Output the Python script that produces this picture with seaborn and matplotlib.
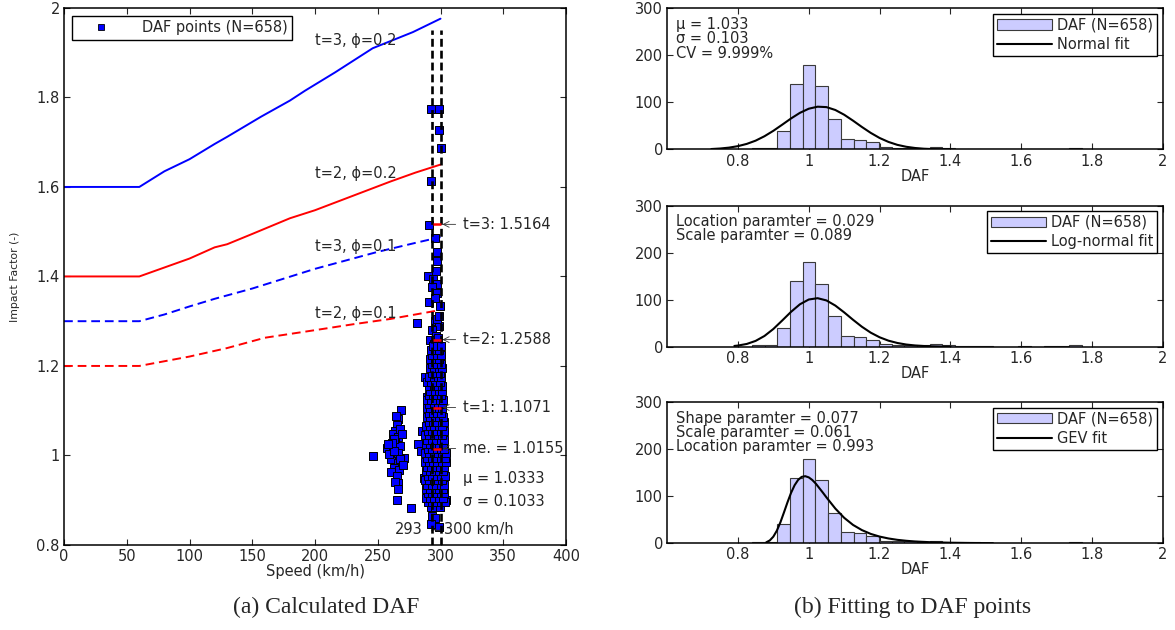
import matplotlib
matplotlib.use("Agg")
import matplotlib.pyplot as plt
from matplotlib.lines import Line2D
from matplotlib.patches import Patch
from matplotlib.ticker import FuncFormatter
import numpy as np
import pandas as pd
import seaborn as sns


# ---- (a) DAF points ----
# sparse points above the dense column
upper_speed = [292.5, 298.5, 299, 300, 292.5, 290.5, 296, 297, 297.5, 296.5,
               290, 294, 297, 293.5, 297.5, 291, 296, 299.5, 281.5, 296,
               299, 293.5, 297.5, 296.5, 299, 292, 298, 295]
upper_daf = [1.775, 1.775, 1.728, 1.687, 1.614, 1.515, 1.487, 1.455, 1.435, 1.413,
             1.402, 1.395, 1.382, 1.376, 1.363, 1.342, 1.352, 1.333, 1.296, 1.300,
             1.290, 1.280, 1.305, 1.268, 1.312, 1.258, 1.262, 1.250]

# cluster around 260-270 km/h and loose points
side_speed = [246.5, 268.9, 265.9, 265, 263.6, 262, 266.5, 264, 260, 257.6,
              262, 264, 268, 271, 260.6, 265.9, 263, 267.2, 260.6, 265,
              266.5, 263.6, 259, 262.6, 266.5, 268, 265, 276.3, 282, 284.3,
              285, 287, 288, 289.6, 289.6, 303, 304.5, 293, 295.5, 292.6, 298.5,
              267.5, 264.5, 261, 269, 266, 263, 258.5, 270]
side_daf = [0.999, 1.102, 1.081, 1.067, 1.054, 1.049, 1.041, 1.032, 1.020, 1.017,
            1.017, 1.005, 1.020, 0.995, 0.991, 0.984, 0.973, 0.968, 0.964, 0.955,
            0.939, 0.941, 1.004, 1.036, 1.005, 0.991, 0.900, 0.883, 1.025, 1.011,
            1.054, 0.950, 1.176, 1.131, 0.905, 0.903, 0.900, 0.865, 0.860, 0.847, 0.840,
            1.060, 1.088, 1.028, 1.048, 0.925, 1.011, 1.025, 0.978]

# dense column between 293 and 300 km/h: (DAF, speeds)
main_rows = [
    (0.885, [292.5, 296, 299.5]),
    (0.895, [290, 293.5, 297, 300.5, 303.5]),
    (0.905, [288.5, 291.5, 295, 298.5, 302]),
    (0.915, [290, 293.5, 297, 300.5, 303]),
    (0.925, [288.5, 292, 295.5, 299, 302]),
    (0.935, [289.5, 293, 296.5, 300, 303]),
    (0.945, [288, 291, 294.5, 298, 301.5]),
    (0.955, [290, 293.5, 297, 300.5, 303.5]),
    (0.965, [288.5, 291.5, 295, 298.5, 302]),
    (0.975, [289, 292.5, 296, 299.5, 303]),
    (0.985, [287.5, 290.5, 294, 297.5, 301, 304]),
    (0.995, [289.5, 293, 296.5, 300, 303.5]),
    (1.005, [288, 291, 294.5, 298, 301.5, 304.5]),
    (1.015, [290, 293.5, 297, 300.5, 303]),
    (1.025, [288.5, 291.5, 295, 298.5, 302]),
    (1.035, [289.5, 293, 296.5, 300, 303]),
    (1.045, [288, 291, 294.5, 298, 301.5]),
    (1.055, [290, 293.5, 297, 300.5, 302.5]),
    (1.065, [288.5, 291.5, 295, 298.5, 301.5]),
    (1.075, [290.5, 294, 297.5, 301, 303]),
    (1.085, [289, 292, 295.5, 299, 302]),
    (1.095, [290.5, 294, 297.5, 300.5]),
    (1.105, [289, 292, 295.5, 299, 301.5]),
    (1.115, [291, 294.5, 298, 301]),
    (1.125, [289.5, 292.5, 296, 299.5, 302]),
    (1.135, [290.5, 294, 297.5, 300.5]),
    (1.145, [292, 295.5, 299, 301.5]),
    (1.155, [291, 294.5, 298, 301]),
    (1.165, [289.5, 292.5, 296, 299.5]),
    (1.175, [291, 294.5, 298, 300.5]),
    (1.185, [293, 296.5, 299.5]),
    (1.195, [291.5, 295, 298.5, 301]),
    (1.205, [293.5, 297, 300]),
    (1.215, [292, 295.5, 299]),
    (1.225, [293.5, 297, 300]),
    (1.235, [292.5, 296, 299]),
    (1.245, [294, 297.5, 300.5]),
]

# impact factor curves
curve_speed = {
    "t3_02": [0, 60, 80, 100, 120, 130, 157, 180, 192, 216, 246, 278, 300],
    "t2_02": [0, 60, 80, 100, 120, 130, 150, 180, 200, 230, 260, 280, 300],
    "t3_01": [0, 60, 80, 100, 120, 150, 200, 250, 280, 300],
    "t2_01": [0, 60, 100, 130, 160, 200, 230, 260, 300],
}
curve_factor = {
    "t3_02": [1.6, 1.6, 1.635, 1.662, 1.696, 1.712, 1.757, 1.793, 1.815, 1.856, 1.91, 1.946, 1.976],
    "t2_02": [1.4, 1.4, 1.42, 1.44, 1.465, 1.472, 1.495, 1.53, 1.548, 1.58, 1.612, 1.632, 1.65],
    "t3_01": [1.3, 1.3, 1.315, 1.333, 1.35, 1.373, 1.417, 1.455, 1.475, 1.488],
    "t2_01": [1.2, 1.2, 1.221, 1.24, 1.263, 1.28, 1.293, 1.305, 1.325],
}
curve_label = {"t3_02": "t=3, ϕ=0.2", "t2_02": "t=2, ϕ=0.2",
               "t3_01": "t=3, ϕ=0.1", "t2_01": "t=2, ϕ=0.1"}
curve_label_y = {"t3_02": 1.928, "t2_02": 1.629, "t3_01": 1.468, "t2_01": 1.317}

speed_band = [293, 300]
stat_values = [1.5164, 1.2588, 1.1071, 1.0155]
stat_labels = ["t=3: 1.5164", "t=2: 1.2588", "t=1: 1.1071", "me. = 1.0155"]

# ---- (b) histogram of DAF and fitted curves ----
hist_counts = [3, 3, 40, 139, 180, 134, 65, 23, 21, 15, 5, 4, 4,
               3, 5, 3, 2, 2, 1, 0, 0, 1, 0, 1, 1, 3]
hist_lo, hist_hi = 0.84, 1.771

normal_x = [0.725, 0.75, 0.775, 0.8, 0.825, 0.85, 0.875, 0.9, 0.925, 0.95, 0.975, 1.0, 1.025, 1.05,
            1.075, 1.1, 1.125, 1.15, 1.175, 1.2, 1.225, 1.25, 1.275, 1.3, 1.325, 1.35, 1.375, 1.4]
normal_y = [1.0, 2.1, 4.0, 7.1, 11.9, 18.8, 28.2, 39.7, 52.7, 66.0, 77.9, 86.7, 91.0, 90.1,
            84.0, 73.9, 61.3, 47.9, 35.3, 24.5, 16.1, 9.9, 5.8, 3.2, 1.6, 0.8, 0.4, 0.15]

lognorm_x = [0.79, 0.8, 0.825, 0.85, 0.875, 0.9, 0.925, 0.95, 0.975, 1.0, 1.025, 1.05, 1.075,
             1.1, 1.125, 1.15, 1.175, 1.2, 1.225, 1.25, 1.275, 1.3, 1.325, 1.35, 1.375, 1.4]
lognorm_y = [1.6, 2.4, 5.8, 12.3, 22.8, 37.6, 55.6, 74.1, 90.1, 100.3, 103.1, 98.3, 87.4,
             72.9, 57.2, 42.4, 29.8, 20.0, 12.8, 7.9, 4.6, 2.6, 1.4, 0.8, 0.4, 0.2]

gev_x = [0.88, 0.89, 0.9, 0.91, 0.92, 0.93, 0.94, 0.95, 0.96, 0.97, 0.98, 0.99, 1.0, 1.01, 1.02,
         1.04, 1.05, 1.075, 1.1, 1.125, 1.15, 1.175, 1.2, 1.225, 1.25, 1.275, 1.3, 1.35, 1.4,
         1.45, 1.5, 1.52]
gev_y = [2.1, 6.1, 14.1, 27.0, 44.7, 65.6, 87.2, 107.2, 123.4, 134.8, 141.2, 142.7, 140.2, 134.6,
         126.8, 107.6, 97.6, 73.9, 54.2, 39.1, 28.1, 20.0, 14.3, 10.3, 7.4, 5.4, 3.9, 2.1, 1.2,
         0.7, 0.4, 0.3]

fit_names = ["Normal fit", "Log-normal fit", "GEV fit"]
fit_texts = ["μ = 1.033\nσ = 0.103\nCV = 9.999%",
             "Location paramter = 0.029\nScale paramter = 0.089",
             "Shape paramter = 0.077\nScale paramter = 0.061\nLocation paramter = 0.993"]


sns.set_style("ticks")
fs = 10.5
plt.rcParams['font.family'] = ['DejaVu Sans']
plt.rcParams['font.size'] = fs
plt.rcParams['xtick.direction'] = 'in'
plt.rcParams['ytick.direction'] = 'in'
plt.rcParams['xtick.top'] = True
plt.rcParams['ytick.right'] = True
plt.rcParams['xtick.major.size'] = 4.5
plt.rcParams['ytick.major.size'] = 4.5
plt.rcParams['xtick.major.pad'] = 3
plt.rcParams['ytick.major.pad'] = 3
plt.rcParams['axes.edgecolor'] = 'black'
plt.rcParams['axes.linewidth'] = 1.1
plt.rcParams['xtick.labelsize'] = fs
plt.rcParams['ytick.labelsize'] = fs

fmt = FuncFormatter(lambda v, p: f"{v:g}")

fig = plt.figure(figsize=(11.75, 6.3), dpi=100)

# ---------------- (a) Calculated DAF ----------------
ax = fig.add_axes([0.0545, 0.135, 0.4272, 0.8524])

main_speed = [s for daf, speeds in main_rows for s in speeds]
main_daf = [daf for daf, speeds in main_rows for s in speeds]
pts = pd.DataFrame({
    "speed": upper_speed + side_speed + main_speed,
    "daf": upper_daf + side_daf + main_daf,
})
sns.scatterplot(data=pts, x="speed", y="daf", marker="s", s=30, color="#0000ff",
                edgecolor="black", linewidth=0.7, ax=ax, zorder=3, legend=False)

for key in curve_speed:
    color = "#0000ff" if key.startswith("t3") else "#ff0000"
    ls = "-" if key.endswith("02") else (0, (4.5, 2.5))
    sns.lineplot(x=curve_speed[key], y=curve_factor[key], color=color, linestyle=ls,
                 lw=1.4, ax=ax, estimator=None, sort=False, zorder=2)
    ax.text(200, curve_label_y[key], curve_label[key], fontsize=fs, va="center", ha="left")

ax.vlines(speed_band, 0.8, 1.95, colors="black", linestyles=(0, (3, 1.5)), lw=1.9, zorder=4)
ax.hlines(stat_values, 294, 300, colors="red", lw=1.8, zorder=5)
for v, lab in zip(stat_values, stat_labels):
    ax.annotate(lab, xy=(301.5, v), xytext=(318, v), va="center", ha="left", fontsize=fs,
                arrowprops=dict(arrowstyle="->", lw=0.6, color="#333333", shrinkA=3, shrinkB=0))
ax.text(318, 0.948, "μ = 1.0333", va="center", ha="left", fontsize=fs)
ax.text(318, 0.896, "σ = 0.1033", va="center", ha="left", fontsize=fs)
ax.text(286, 0.834, "293", va="center", ha="right", fontsize=fs)
ax.text(296.5, 0.834, "~", va="center", ha="center", fontsize=fs)
ax.text(302.5, 0.834, "300 km/h", va="center", ha="left", fontsize=fs)

ax.set_xlim(0, 400)
ax.set_ylim(0.8, 2.0)
ax.set_xticks(np.arange(0, 401, 50))
ax.set_yticks([0.8, 1.0, 1.2, 1.4, 1.6, 1.8, 2.0])
ax.yaxis.set_major_formatter(fmt)
ax.set_xlabel("Speed (km/h)", fontsize=fs, labelpad=0)
ax.set_ylabel("Impact Factor (-)", fontsize=7.8, labelpad=12)

pt_handle = Line2D([], [], marker="s", ls="none", markersize=5, markerfacecolor="#0000ff",
                   markeredgecolor="black", markeredgewidth=0.6)
ax.legend([pt_handle], ["DAF points (N=658)"], loc="upper left", fancybox=False,
          edgecolor="black", framealpha=1, handlelength=3.4, handletextpad=1.1,
          borderpad=0.3, borderaxespad=0, fontsize=fs, bbox_to_anchor=(0.016, 0.985))

fig.text(0.278, 0.036, "(a) Calculated DAF", ha="center", va="center",
         fontsize=17, family="Liberation Serif")

# ---------------- (b) Fitting to DAF points ----------------
edges = np.linspace(hist_lo, hist_hi, len(hist_counts) + 1)
hist_df = pd.DataFrame({
    "daf": (edges[:-1] + edges[1:]) / 2,
    "count": hist_counts,
})
fit_x = [normal_x, lognorm_x, gev_x]
fit_y = [normal_y, lognorm_y, gev_y]
bottoms = [0.7627, 0.4497, 0.1376]

for i in range(3):
    hx = fig.add_axes([0.5677, bottoms[i], 0.4221, 0.2240])
    sns.histplot(data=hist_df, x="daf", weights="count", bins=list(edges), ax=hx,
                 color="#ccccff", edgecolor="#3a3a3a", linewidth=0.8, alpha=1)
    sns.lineplot(x=fit_x[i], y=fit_y[i], color="black", lw=1.5, ax=hx,
                 estimator=None, sort=False)
    hx.set_xlim(0.6, 2.0)
    hx.set_ylim(0, 300)
    hx.set_xticks([0.8, 1.0, 1.2, 1.4, 1.6, 1.8, 2.0])
    hx.set_yticks([0, 100, 200, 300])
    hx.xaxis.set_major_formatter(fmt)
    hx.set_xlabel("DAF", fontsize=fs, labelpad=0)
    hx.set_ylabel("")
    hx.text(0.018, 0.94, fit_texts[i], transform=hx.transAxes, va="top", ha="left",
            fontsize=fs, linespacing=0.95)
    handles = [Patch(facecolor="#ccccff", edgecolor="#3a3a3a", linewidth=0.8),
               Line2D([], [], color="black", lw=1.5)]
    hx.legend(handles, ["DAF (N=658)", fit_names[i]], loc="upper right", fancybox=False,
              edgecolor="black", framealpha=1, handlelength=3.8, handletextpad=0.35,
              borderpad=0.25, labelspacing=0.3, borderaxespad=0, fontsize=fs,
              bbox_to_anchor=(0.988, 0.96))

fig.text(0.777, 0.036, "(b) Fitting to DAF points", ha="center", va="center",
         fontsize=17, family="Liberation Serif")

fig.savefig("out.png", dpi=100)
